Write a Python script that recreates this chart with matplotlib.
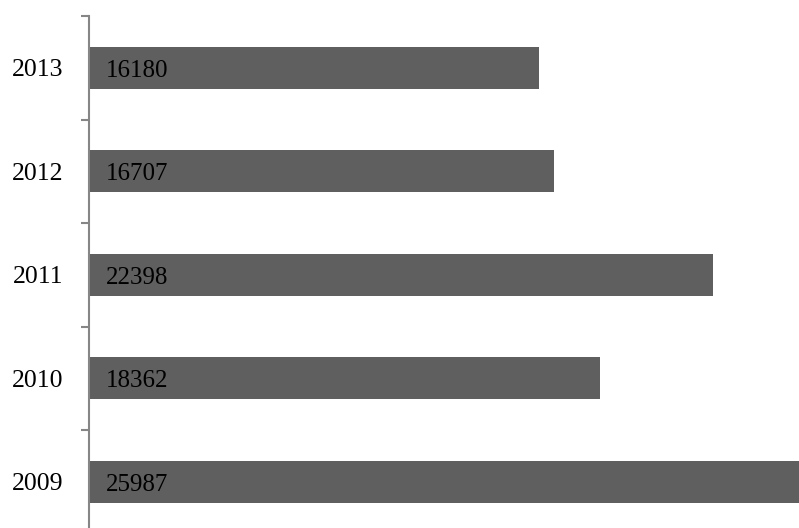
import matplotlib
matplotlib.use("Agg")
import matplotlib.pyplot as plt
from matplotlib.ticker import FixedLocator

years = ["2009", "2010", "2011", "2012", "2013"]
values = [25987, 18362, 22398, 16707, 16180]

plt.rcParams["font.family"] = ["Liberation Serif", "DejaVu Serif"]

fig = plt.figure(figsize=(7.99, 5.28), dpi=100)
ax = fig.add_axes([88.5 / 799, 1 - 533.5 / 528, 1 - 88.5 / 799, (533.5 - 16) / 528])

bar_color = "#5f5f5f"
axis_color = "#868686"

pos = list(range(len(years)))
ax.barh(pos, values, height=0.41, color=bar_color, zorder=2)

for p, v in zip(pos, values):
    ax.annotate(str(v), xy=(0, p), xytext=(12.5, -6.6), textcoords="offset points",
                ha="left", va="baseline", fontsize=18, color="black")

ax.set_xlim(0, 25500)
ax.set_ylim(-0.5, len(years) - 0.5)

ax.set_yticks(pos)
ax.set_yticklabels(years, fontsize=18.5)
ax.yaxis.set_minor_locator(FixedLocator([p + 0.5 for p in pos]))
ax.tick_params(axis="y", which="major", length=0, pad=18)
ax.tick_params(axis="y", which="minor", length=6, width=1.5, color=axis_color)
ax.set_xticks([])

for s in ["top", "right", "bottom"]:
    ax.spines[s].set_visible(False)
ax.spines["left"].set_color(axis_color)
ax.spines["left"].set_linewidth(1.5)

fig.savefig("out.png", dpi=100)
